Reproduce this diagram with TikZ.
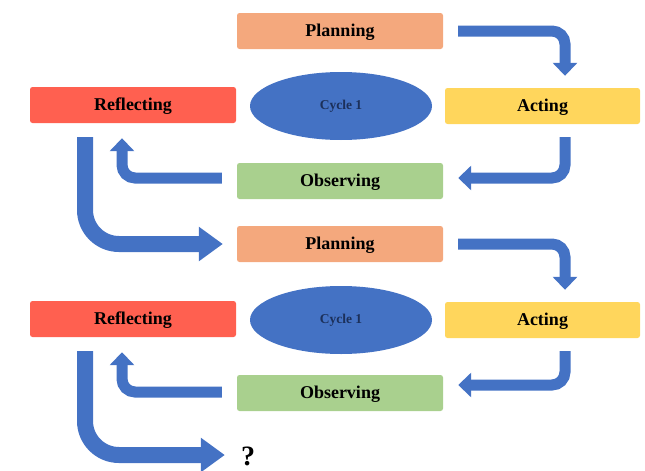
\documentclass[tikz,border=0pt]{standalone}
\usepackage{fontspec}
\setmainfont{Liberation Serif}
\usetikzlibrary{arrows.meta,shapes.geometric,calc}
\definecolor{cplan}{RGB}{244,168,125}
\definecolor{cact}{RGB}{255,214,92}
\definecolor{crefl}{RGB}{255,96,80}
\definecolor{cobs}{RGB}{169,208,142}
\definecolor{cblue}{RGB}{68,114,196}
\definecolor{cnavy}{RGB}{28,48,90}
\begin{document}
\begin{tikzpicture}[x=1pt,y=-1pt,
  stepbox/.style={rectangle,rounded corners=2.5pt,minimum width=206pt,minimum height=36pt,
    inner sep=0pt,font=\fontsize{18}{20}\selectfont\bfseries,text=black,
    text height=13pt,text depth=2pt},
  actbox/.style={stepbox,minimum width=195pt},
  cyc/.style={ellipse,fill=cblue,minimum width=182pt,minimum height=68pt,inner sep=0pt,
    font=\fontsize{13.5}{15}\selectfont\bfseries,text=cnavy},
  arr/.style={draw=cblue,line width=11pt,rounded corners=13pt,
    -{Triangle[width=24pt,length=13pt]}},
  bigarr/.style={draw=cblue,line width=16pt,rounded corners=34pt,
    -{Triangle[width=33pt,length=24pt]}}]
\useasboundingbox (0,0) rectangle (645,471);
% cycle A
\node[stepbox,fill=cplan] (P1) at (340,31) {Planning};
\node[cyc] (C1) at (341,106) {Cycle 1};
\node[actbox,fill=cact] (A1) at (542.5,106) {Acting};
\node[stepbox,fill=crefl] (R1) at (133,105) {Reflecting};
\node[stepbox,fill=cobs] (O1) at (340,181) {Observing};
% cycle B
\node[stepbox,fill=cplan] (P2) at (340,244) {Planning};
\node[cyc] (C2) at (341,320) {Cycle 1};
\node[actbox,fill=cact] (A2) at (542.5,320) {Acting};
\node[stepbox,fill=crefl] (R2) at (133,319) {Reflecting};
\node[stepbox,fill=cobs] (O2) at (340,393) {Observing};
\node[font=\fontsize{28}{30}\selectfont\bfseries,inner sep=0pt] (Q) at (248,456) {?};
% arrows cycle A
\draw[arr] ([xshift=15pt]P1.east) -| ([xshift=22.5pt,yshift=12pt]A1.north);
\draw[arr] ([xshift=22.5pt,yshift=-13pt]A1.south) |- ([xshift=15pt,yshift=3pt]O1.east);
\draw[arr] ([xshift=-15pt,yshift=3pt]O1.west) -| ([xshift=-11pt,yshift=-15pt]R1.south);
\draw[bigarr] ([xshift=-48pt,yshift=-14pt]R1.south) |- ([xshift=-14pt]P2.west);
% arrows cycle B
\draw[arr] ([xshift=15pt]P2.east) -| ([xshift=22.5pt,yshift=12pt]A2.north);
\draw[arr] ([xshift=22.5pt,yshift=-13pt]A2.south) |- ([xshift=15pt,yshift=8pt]O2.east);
\draw[arr] ([xshift=-15pt,yshift=1pt]O2.west) -| ([xshift=-11pt,yshift=-15pt]R2.south);
\draw[bigarr] ([xshift=-48pt,yshift=-14pt]R2.south) |- ([xshift=-16pt,yshift=1pt]Q.west);
\end{tikzpicture}
\end{document}
